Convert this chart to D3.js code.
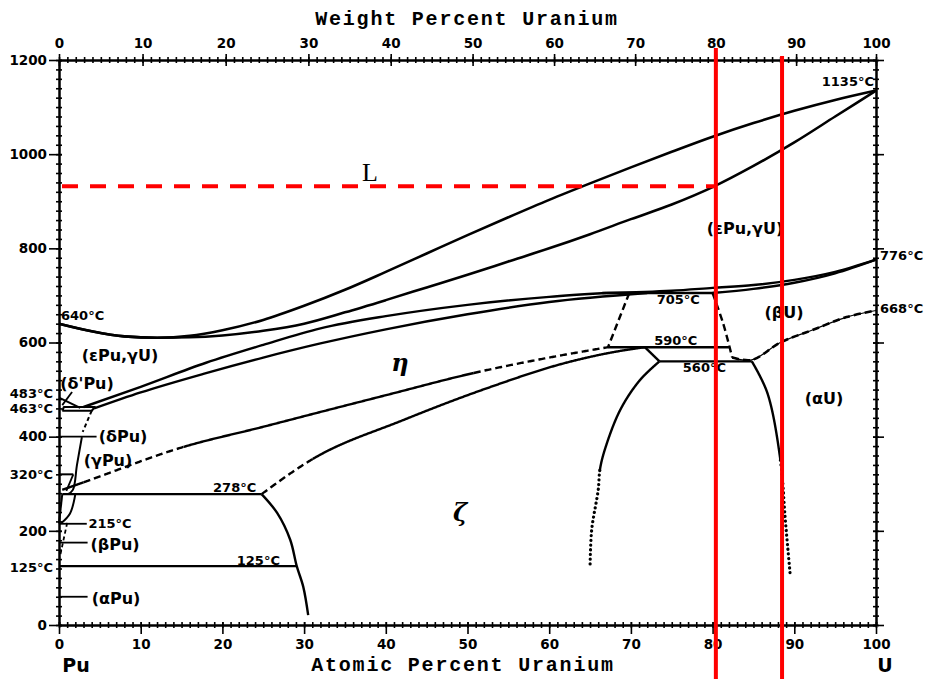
<!DOCTYPE html>
<html>
<head>
<meta charset="utf-8">
<script src="https://cdn.jsdelivr.net/npm/d3@7"></script>
<style>
  body { margin: 0; background: #fff; }
  svg { display: block; background: #fff; }
</style>
</head>
<body>
<svg id="chart" width="932" height="679"></svg>
<script>
// ---- Axis values ----
const atomicTicks = [0, 10, 20, 30, 40, 50, 60, 70, 80, 90, 100];
const weightTicks = [0, 10, 20, 30, 40, 50, 60, 70, 80, 90, 100];
const tempTicks = [0, 200, 400, 600, 800, 1000, 1200];
const massPu = 244, massU = 238;

// ---- Phase boundaries: [at.% U, temperature °C] ----
const liquidus = [[0,640],[4,624],[8,613],[12,610],[16,614],[20,626],[25,648],[30,678],[35,712],[40,750],[45,789],[50,828],[55,866],[60,903],[65,938],[70,972],[75,1005],[80,1037],[85,1066],[90,1092],[95,1115],[100,1135]];
const solidus = [[0,640],[4,624],[8,613],[12,610],[16,611],[20,615],[25,625],[30,640],[35,664],[40,690],[45,717],[50,744],[55,772],[60,800],[65,830],[70,862],[75,893],[80,930],[85,975],[90,1025],[95,1080],[100,1135]];
const epsEtaUpper = [[3.0,463],[10,506],[18,557],[25,595],[32,630],[40,656],[50,680],[60,697],[67,705]];
const epsEtaLower = [[4.3,460],[10,494],[18,535],[25,568],[32,598],[40,628],[50,660],[60,686],[72,705]];
const gammaUUpper = [[67,705],[75,710],[80,716],[85,722],[90,733],[95,750],[100,776]];
const gammaULower = [[80,705],[85,714],[90,727],[95,747],[100,776]];
const iso705 = [[66.5,705],[80.5,705]];
const eta705Left = [[69.8,705],[67.2,590]];
const eta705Right = [[80,705],[81.3,640],[82.4,568]];
const iso590 = [[67.2,590],[82,590]];
const iso560 = [[73.5,560],[84.8,560]];
const zetaStep = [[71.7,590],[73.5,560]];
const zetaUSide = [[73.5,560],[71.1,520],[68.7,457],[66.8,372],[66.2,329],[66.0,287],[65.2,202],[65.0,121]];
const alphaUSolvus = [[84.8,560],[86.7,493],[88.3,350],[88.9,223],[89.5,106]];
const betaUSolvus = [[82.4,568],[84.8,563],[88.3,600],[92.3,627],[96.4,654],[100,668]];
const etaZetaLow = [[0.4,287],[3,303],[15.2,378],[25,421],[31.9,452],[40,488],[50.7,535],[60,568],[67.2,590]];
const etaZetaHigh = [[24.8,278],[31,352],[42.1,435],[52.4,503],[62.5,559],[68,580],[71.7,590]];
const iso278 = [[0.4,278],[24.8,278]];
const zetaPuSide = [[24.8,278],[26.7,238],[28.3,181],[29.1,125],[29.9,81],[30.5,21]];
const iso125 = [[0,125],[29.1,125]];
const deltaPrime = [[0,483],[2.6,461]];
const deltaPrimeEdge = [[1.6,495],[0.4,467]];
const iso463 = [[0.4,455],[0.6,463],[4.4,463],[4.0,455],[0.4,455]];
const deltaGammaA = [[4.0,455],[2.9,410]];
const deltaGammaB = [[2.8,399],[2.2,340],[1.7,287],[1.1,278]];
const iso320 = [[0,320],[1.75,320]];
const gammaBeta = [[1.75,320],[0.9,285]];
const betaLeft = [[0.4,278],[0,216]];
const betaRight = [[2.0,278],[1.35,237],[0.25,216]];
const betaAlpha = [[1.0,217],[0.1,144]];
const iso215 = 215;

// ---- Reference markers ----
const markerCompositions = [80.4, 88.5];
const markerTemperature = 932;

// ---- Scales ----
const svg = d3.select("#chart");
const W = 932, H = 679;
const x = d3.scaleLinear().domain([0, 100]).range([59, 876]);
const y = d3.scaleLinear().domain([0, 1200]).range([625, 60]);
function atomicFromWeight(w) {
  const u = w / massU, p = (100 - w) / massPu;
  return 100 * u / (u + p);
}
const wSteps = d3.range(0, 101);
const xw = d3.scaleLinear().domain(wSteps).range(wSteps.map(w => x(atomicFromWeight(w))));

const FONT = "'DejaVu Sans', 'Liberation Sans', sans-serif";
const fmt = d3.format("d");

// ---- Axes ----
function styleAxis(sel) {
  sel.selectAll("path.domain").attr("stroke", "#000").attr("stroke-width", 2);
  sel.selectAll(".tick line").attr("stroke", "#000").attr("stroke-width", 1.6);
  sel.selectAll(".tick text").attr("fill", "#000")
    .attr("font-family", FONT).attr("font-weight", 700).attr("font-size", 13.5);
}

// bottom (atomic %)
svg.append("g").attr("transform", `translate(0,${y(0)})`)
  .call(d3.axisBottom(x).tickValues(d3.range(0, 101)).tickSize(3).tickSizeOuter(0).tickFormat(""))
  .call(s => s.selectAll(".tick line").attr("y1", -3))
  .call(styleAxis);
svg.append("g").attr("transform", `translate(0,${y(0)})`)
  .call(d3.axisBottom(x).tickValues(atomicTicks).tickSize(9).tickSizeOuter(0).tickPadding(5).tickFormat(fmt))
  .call(s => s.selectAll(".tick line").attr("y1", -3))
  .call(styleAxis);

// top (weight %)
svg.append("g").attr("transform", `translate(0,${y(1200)})`)
  .call(d3.axisTop(xw).tickValues(d3.range(0, 101)).tickSize(3).tickSizeOuter(0).tickFormat(""))
  .call(s => s.selectAll(".tick line").attr("y1", 3))
  .call(styleAxis);
svg.append("g").attr("transform", `translate(0,${y(1200)})`)
  .call(d3.axisTop(xw).tickValues(weightTicks).tickSize(6).tickSizeOuter(0).tickPadding(6).tickFormat(fmt))
  .call(s => s.selectAll(".tick line").attr("y1", 6))
  .call(styleAxis);

// left (temperature)
svg.append("g").attr("transform", `translate(${x(0)},0)`)
  .call(d3.axisLeft(y).tickValues(d3.range(0, 1201, 20)).tickSize(3).tickSizeOuter(0).tickFormat(""))
  .call(s => s.selectAll(".tick line").attr("x1", 3))
  .call(styleAxis);
svg.append("g").attr("transform", `translate(${x(0)},0)`)
  .call(d3.axisLeft(y).tickValues(tempTicks).tickSize(10).tickSizeOuter(0).tickPadding(2).tickFormat(fmt))
  .call(s => s.selectAll(".tick line").attr("x1", 3))
  .call(styleAxis);

// right
svg.append("g").attr("transform", `translate(${x(100)},0)`)
  .call(d3.axisRight(y).tickValues(d3.range(0, 1201, 20)).tickSize(3).tickSizeOuter(0).tickFormat(""))
  .call(s => s.selectAll(".tick line").attr("x1", -3))
  .call(styleAxis);
svg.append("g").attr("transform", `translate(${x(100)},0)`)
  .call(d3.axisRight(y).tickValues(tempTicks).tickSize(8).tickSizeOuter(0).tickFormat(""))
  .call(s => s.selectAll(".tick line").attr("x1", -3))
  .call(styleAxis);

// ---- Phase boundary drawing ----
const plot = svg.append("g");
const line = d3.line().x(d => x(d[0])).y(d => y(d[1]));
function strokeStyle(sel, opt) {
  const { width = 2.4, dash = null, cap = "butt" } = opt;
  sel.attr("fill", "none").attr("stroke", "#000")
    .attr("stroke-width", width)
    .attr("stroke-dasharray", dash)
    .attr("stroke-linecap", cap)
    .attr("stroke-linejoin", "round");
}
function draw(pts, opt = {}) {
  const curve = opt.curve || d3.curveLinear;
  plot.append("path").attr("d", line.curve(curve)(pts)).call(strokeStyle, opt);
}
// one smooth curve, split at given compositions (axis "x") or temperatures
// (axis "y") into runs with their own stroke style (solid / dashed / dotted)
function drawSplit(pts, curve, axis, breaks, styles) {
  const tmp = plot.append("path").attr("d", line.curve(curve)(pts));
  const node = tmp.node(), L = node.getTotalLength(), n = 500;
  const samples = d3.range(n + 1).map(i => {
    const p = node.getPointAtLength(L * i / n);
    return [p.x, p.y];
  });
  tmp.remove();
  const bpx = breaks.map(b => axis === "x" ? x(b) : y(b));
  const segOf = p => bpx.filter(b => (axis === "x" ? p[0] : p[1]) >= b).length;
  const groups = styles.map(() => []);
  samples.forEach(p => groups[segOf(p)].push(p));
  groups.forEach((g, i) => { if (i < groups.length - 1 && groups[i + 1].length) g.push(groups[i + 1][0]); });
  groups.forEach((g, i) => {
    if (g.length > 1) plot.append("path").attr("d", d3.line()(g)).call(strokeStyle, styles[i]);
  });
}
const smooth = d3.curveMonotoneX;
const spline = d3.curveCatmullRom.alpha(0.5);
const SOLID = {};
const DASHED = { dash: "7,4" };
const DOTTED = { dash: "0.1,4.6", cap: "round", width: 3.2 };

draw(liquidus, { curve: smooth, width: 2.6 });
draw(solidus, { curve: smooth, width: 2.6 });
draw(epsEtaUpper, { curve: smooth });
draw(epsEtaLower, { curve: smooth });
draw(gammaUUpper, { curve: smooth });
draw(gammaULower, { curve: smooth });
draw(iso705);
draw(eta705Left, DASHED);
draw(eta705Right, { curve: spline, ...DASHED });
draw(iso590);
draw(iso560);
draw(zetaStep);
drawSplit(zetaUSide, spline, "y", [329], [SOLID, DOTTED]);
drawSplit(alphaUSolvus, spline, "y", [350], [SOLID, DOTTED]);
draw(betaUSolvus, { curve: spline, width: 1.2 });
draw(betaUSolvus, { curve: spline, dash: "7,4", width: 2.6 });
drawSplit(etaZetaLow, smooth, "x", [3, 15.2, 50.7], [SOLID, DASHED, SOLID, DASHED]);
drawSplit(etaZetaHigh, smooth, "x", [31], [DASHED, SOLID]);
draw(iso278);
draw(zetaPuSide, { curve: spline });
draw(iso125);
draw(deltaPrime, { width: 2 });
draw(deltaPrimeEdge, { width: 1.8 });
draw(iso463, { width: 2 });
draw(deltaGammaA, { dash: "4,3", width: 2 });
draw(deltaGammaB, { curve: spline, width: 2 });
draw(iso320, { width: 2 });
draw(gammaBeta, { width: 1.8 });
draw(betaLeft, { width: 2 });
draw(betaRight, { curve: spline, width: 2 });
draw(betaAlpha, { dash: "4,3", width: 1.8 });

// leader lines to the Pu-rich phase labels
[[400, 4.6], [iso215, 3.4], [175, 3.5], [60, 3.5]].forEach(([t, a]) =>
  draw([[0, t], [a, t]], { width: 1.8 }));

// ---- Labels ----
function label(txt, px, py, opt = {}) {
  const { anchor = "middle", size = 13, family = FONT, weight = 700, style = "normal" } = opt;
  svg.append("text")
    .attr("x", px).attr("y", py)
    .attr("text-anchor", anchor)
    .attr("dominant-baseline", "central")
    .attr("font-family", family).attr("font-size", size)
    .attr("font-weight", weight).attr("font-style", style)
    .attr("fill", "#000")
    .text(txt);
}
const degC = t => `${t}°C`;

// temperatures of invariants / transformations
label(degC(liquidus[liquidus.length - 1][1]), x(100) - 2, y(1135) - 9, { anchor: "end" });
label(degC(gammaUUpper[gammaUUpper.length - 1][1]), x(100) + 4, y(776) - 4, { anchor: "start" });
label(degC(betaUSolvus[betaUSolvus.length - 1][1]), x(100) + 4, y(668) - 2, { anchor: "start" });
label(degC(liquidus[0][1]), x(0) + 2, y(640) - 8, { anchor: "start" });
label(degC(iso705[0][1]), x(75.8), y(705) + 6);
label(degC(iso590[0][1]), x(75.5), y(590) - 7);
label(degC(iso560[0][1]), x(79), y(560) + 6);
label(degC(iso278[0][1]), x(21.5), y(278) - 7);
label(degC(iso125[0][1]), x(24.4), y(125) - 6);
label(degC(deltaPrime[0][1]), 53, y(483) - 4, { anchor: "end" });
label(degC(iso463[1][1]), 53, y(463) + 1, { anchor: "end" });
label(degC(iso320[0][1]), 53, y(320), { anchor: "end" });
label(degC(iso125[0][1]), 53, y(125) + 1, { anchor: "end" });
label(degC(iso215), x(3.6), y(iso215), { anchor: "start" });

// phase fields
const P = { size: 16 };
label("(εPu,γU)", 120, 355, P);
label("(εPu,γU)", 745, 228, P);
label("(δ'Pu)", 87, 383, P);
label("(δPu)", 123, 436, P);
label("(γPu)", 108, 460, P);
label("(βPu)", 115, 544, P);
label("(αPu)", 116, 598, P);
label("(βU)", 784, 312, P);
label("(αU)", 824, 398, P);
label("η", 400, 362, { size: 24, family: "'DejaVu Serif', 'Liberation Serif', serif", style: "italic" });
label("ζ", 460, 512, { size: 24, family: "'DejaVu Serif', 'Liberation Serif', serif", style: "italic" });
label("L", 370, 172, { size: 26, family: "'Liberation Serif', serif", weight: 400 });

// axis titles and element names
const TITLE_FAMILY = "'Liberation Mono', 'DejaVu Sans Mono', monospace";
[["Weight Percent Uranium", 467, 19], ["Atomic Percent Uranium", 463, 665]].forEach(([t, px, py]) =>
  svg.append("text").attr("x", px).attr("y", py).attr("text-anchor", "middle")
    .attr("dominant-baseline", "central").attr("font-family", TITLE_FAMILY)
    .attr("font-size", 20).attr("font-weight", 700).attr("letter-spacing", 1.8)
    .text(t));
label("Pu", 76, 665, { size: 19 });
label("U", 885, 665, { size: 19 });

// ---- Red reference markers ----
const marks = svg.append("g");
marks.append("line")
  .attr("x1", x(0) + 3).attr("x2", x(markerCompositions[0]))
  .attr("y1", y(markerTemperature)).attr("y2", y(markerTemperature))
  .attr("stroke", "#ff0000").attr("stroke-width", 4).attr("stroke-dasharray", "16,12");
marks.selectAll("line.v").data(markerCompositions).join("line")
  .attr("class", "v")
  .attr("x1", d => x(d)).attr("x2", d => x(d))
  .attr("y1", (d, i) => y(1200) - (i === 0 ? 12 : 4)).attr("y2", H)
  .attr("stroke", "#ff0000").attr("stroke-width", 4);
</script>
</body>
</html>
